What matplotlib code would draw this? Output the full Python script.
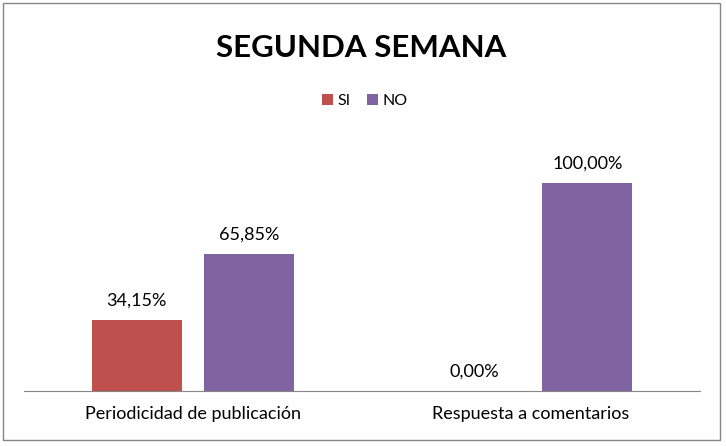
import matplotlib
matplotlib.use("Agg")
import matplotlib.pyplot as plt
from matplotlib.patches import Rectangle
import numpy as np

categories = ["Periodicidad de publicación", "Respuesta a comentarios"]
series_names = ["SI", "NO"]
si_values = [34.15, 0.00]
no_values = [65.85, 100.00]
colors = ["#C0504D", "#8064A2"]

plt.rcParams['font.family'] = ['Lato', 'DejaVu Sans']

fig = plt.figure(figsize=(7.26, 4.46), dpi=100)
ax = fig.add_axes([24/726, 55/446, 676/726, 250/446])

x = np.arange(len(categories))
w = 0.266
off = 0.167
for vals, name, col, o in [(si_values, series_names[0], colors[0], -off),
                           (no_values, series_names[1], colors[1], off)]:
    bars = ax.bar(x + o, vals, width=w, color=col, label=name)
    for b, v in zip(bars, vals):
        ax.text(b.get_x() + b.get_width()/2, v + 5.5, f"{v:.2f}%".replace(".", ","),
                ha="center", va="bottom", fontsize=13, color="#000000")

ax.set_xlim(-0.5, 1.5)
ax.set_ylim(0, 120)
ax.set_yticks([])
ax.set_xticks(x)
ax.set_xticklabels(categories, fontsize=13)
ax.tick_params(axis="x", length=0, pad=11)
for s in ["top", "right", "left"]:
    ax.spines[s].set_visible(False)
ax.spines["bottom"].set_color("#868686")

fig.text(361/726, 1 - 48/446, "SEGUNDA SEMANA", ha="center", va="center",
         fontsize=22.5, fontweight="bold")
leg = fig.legend(loc="center", bbox_to_anchor=(365/726, 1 - 101/446), ncol=2,
                 frameon=False, fontsize=11.5, handlelength=0.7, handleheight=0.7,
                 handletextpad=0.3, columnspacing=1.0)

fig.patches.append(Rectangle((3/726, 6/446), 717/726, 437/446, transform=fig.transFigure,
                             fill=False, edgecolor="#868686", linewidth=1))

fig.savefig("out.png", dpi=100)
